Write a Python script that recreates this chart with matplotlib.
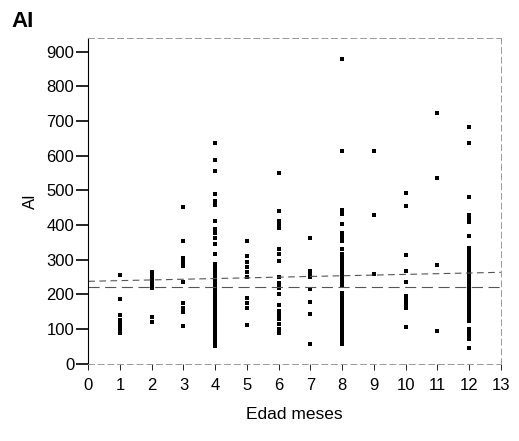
import numpy as np
import matplotlib.pyplot as plt

plt.rcParams['font.family'] = ['Liberation Sans', 'DejaVu Sans']

# AI values, one list per age in months
ages = [1, 2, 3, 4, 5, 6, 7, 8, 9, 10, 11, 12]
ai_values = {
    1: [257, 188, 142, 125, 115, 105, 95, 88],
    2: [266, 255, 245, 235, 225, 218, 135, 122],
    3: [451, 353, 305, 295, 283, 237, 175, 160, 150, 110],
    4: [636, 587, 555, 491, 470, 457, 413, 390, 376, 364, 347, 318,
        289, 283, 275, 268, 260, 253, 245, 238, 230, 223, 215, 208,
        200, 193, 185, 178, 170, 163, 155, 148, 140, 133, 125, 118,
        110, 103, 95, 87, 80, 72, 65, 58, 52],
    5: [355, 310, 295, 280, 265, 250, 190, 175, 162, 113],
    6: [549, 440, 413, 400, 393, 330, 318, 297, 249, 234, 225, 220,
        202, 170, 153, 140, 128, 115, 100, 90],
    7: [364, 268, 258, 250, 217, 179, 144, 58],
    8: [879, 613, 445, 433, 404, 376, 365, 355, 332, 318, 310, 302,
        295, 287, 280, 272, 265, 257, 250, 242, 235, 227, 205, 197,
        190, 182, 175, 167, 160, 152, 145, 137, 130, 122, 115, 108,
        104, 95, 88, 80, 73, 66, 58],
    9: [613, 428, 260],
    10: [494, 454, 315, 269, 237, 196, 185, 172, 160, 107],
    11: [723, 535, 286, 95],
    12: [682, 636, 480, 428, 418, 408, 370, 335, 328, 320, 312, 305,
         297, 290, 283, 277, 269, 262, 255, 249, 240, 231, 224, 216,
         209, 201, 194, 186, 179, 171, 164, 156, 149, 141, 134, 124,
         101, 94, 87, 79, 72, 46],
}

# reference lines (trend and overall median)
trend_intercept = 238
trend_slope = 2.0
overall_median = 222

fig = plt.figure(figsize=(5.19, 4.41), dpi=100)
ax = fig.add_axes([0.170, 0.175, 0.795, 0.739])

for age in ages:
    vals = ai_values[age]
    ax.plot([age] * len(vals), vals, 's', color='black', markersize=3.2,
            markeredgewidth=0, linestyle='none')

xs = np.array([0, 13])
ax.plot(xs, trend_intercept + trend_slope * xs, color='#555555',
        linewidth=0.8, linestyle=(0, (6, 4)))
ax.axhline(overall_median, color='#555555', linewidth=0.8,
           linestyle=(0, (10, 5)))

ax.set_xlim(0, 13)
ax.set_ylim(0, 940)
ax.set_xticks(range(0, 14))
ax.set_yticks(range(0, 1000, 100))
ax.tick_params(axis='y', direction='out', length=9, width=1.2,
               labelsize=12, pad=1)
ax.tick_params(axis='x', direction='out', length=4, width=0.6,
               labelsize=12, pad=6)

for side in ['top', 'right', 'bottom']:
    ax.spines[side].set_color('#999999')
    ax.spines[side].set_linewidth(0.7)
    ax.spines[side].set_linestyle((0, (6, 4)))
ax.spines['left'].set_linewidth(0.8)

ax.set_xlabel('Edad meses', fontsize=12.5, labelpad=10)
ax.set_ylabel('AI', fontsize=12, labelpad=6)
fig.text(0.022, 0.975, 'AI', fontsize=16, fontweight='bold',
         ha='left', va='top')

fig.savefig('out.png', dpi=100)
